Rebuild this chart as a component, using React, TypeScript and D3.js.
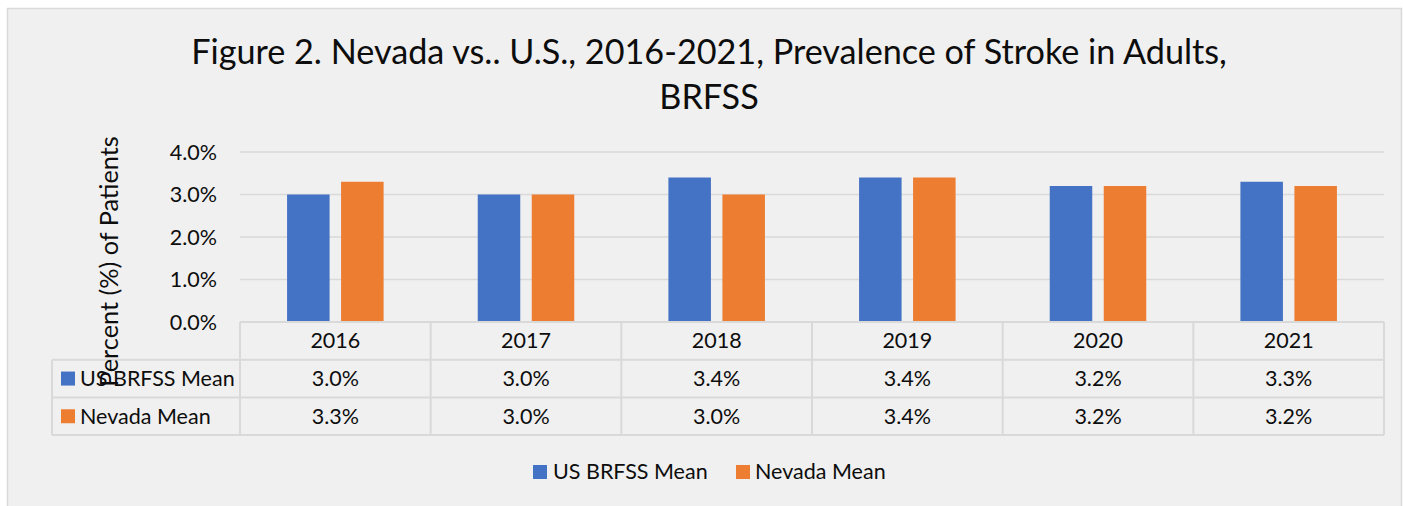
import React from "react";
import * as d3 from "d3";

const years = ["2016", "2017", "2018", "2019", "2020", "2021"];
const usMean = [0.030, 0.030, 0.034, 0.034, 0.032, 0.033];
const nvMean = [0.033, 0.030, 0.030, 0.034, 0.032, 0.032];
const seriesNames = ["US BRFSS Mean", "Nevada Mean"];
const seriesColors = ["#4472C4", "#ED7D31"];
const yTicks = [0, 0.01, 0.02, 0.03, 0.04];
const titleLines = ["Figure 2. Nevada vs.. U.S., 2016-2021, Prevalence of Stroke in Adults,", "BRFSS"];
const yLabel = "Percent (%) of Patients";

const W = 1403;
const H = 506;
const FONT = "Lato, 'Open Sans', sans-serif";

export default function App() {
  const plotLeft = 240;
  const plotRight = 1384;
  const x = d3.scaleBand<string>().domain(years).range([plotLeft, plotRight]).padding(0);
  const y = d3.scaleLinear().domain([0, 0.04]).range([322, 152]);
  const bw = x.bandwidth();
  const barW = bw * 0.223;
  const gap = barW * 0.27;
  const fmt = d3.format(".1%");
  const series = [usMean, nvMean];

  const rowTop = 322;
  const rowH = 37.7;
  const tableLeft = 52;
  const gridColor = "#d9d9d9";
  const textColor = "#0d0d0d";
  const fs = 21.5;

  return (
    <svg width={W} height={H} style={{ position: "absolute", left: 0, top: 0, background: "#fff" }} fontFamily={FONT}>
      <rect x={7.5} y={8.5} width={1394} height={510} fill="#f0f0f0" stroke="#d9d9d9" strokeWidth={1.5} />
      {/* title */}
      {titleLines.map((t, i) => (
        <text key={i} x={709} y={64 + i * 45} textAnchor="middle" fontSize={34.2} fill={textColor}>{t}</text>
      ))}
      {/* gridlines */}
      {yTicks.filter(t => t > 0).map(t => (
        <line key={t} x1={plotLeft} x2={plotRight} y1={y(t)} y2={y(t)} stroke={gridColor} strokeWidth={1.5} />
      ))}
      {/* y tick labels */}
      {yTicks.map(t => (
        <text key={t} x={217} y={y(t) + 7.5} textAnchor="end" fontSize={fs} fill={textColor}>{fmt(t)}</text>
      ))}
      {/* bars */}
      {years.map((yr, i) => {
        const c = (x(yr) as number) + bw / 2;
        return series.map((s, k) => {
          const bx = k === 0 ? c - gap / 2 - barW : c + gap / 2;
          return (
            <rect key={yr + k} x={bx} y={y(s[i])} width={barW} height={y(0) - y(s[i])} fill={seriesColors[k]} />
          );
        });
      })}
      {/* table lines */}
      <line x1={plotLeft} x2={plotRight} y1={rowTop} y2={rowTop} stroke={gridColor} strokeWidth={2} />
      {[1, 2, 3].map(r => (
        <line key={r} x1={tableLeft} x2={plotRight} y1={rowTop + r * rowH} y2={rowTop + r * rowH} stroke={gridColor} strokeWidth={2} />
      ))}
      <line x1={tableLeft} x2={tableLeft} y1={rowTop + rowH} y2={rowTop + 3 * rowH} stroke={gridColor} strokeWidth={2} />
      {years.map(yr => (
        <line key={yr} x1={x(yr)} x2={x(yr)} y1={rowTop} y2={rowTop + 3 * rowH} stroke={gridColor} strokeWidth={2} />
      ))}
      <line x1={plotRight} x2={plotRight} y1={rowTop} y2={rowTop + 3 * rowH} stroke={gridColor} strokeWidth={2} />
      {/* header */}
      {years.map(yr => (
        <text key={yr} x={(x(yr) as number) + bw / 2} y={rowTop + rowH / 2 + 7.5} textAnchor="middle" fontSize={fs} fill={textColor}>{yr}</text>
      ))}
      {/* rows */}
      {series.map((s, k) => (
        <g key={k}>
          <rect x={61} y={rowTop + (k + 1) * rowH + rowH / 2 - 7} width={14} height={14} fill={seriesColors[k]} />
          <text x={80} y={rowTop + (k + 1) * rowH + rowH / 2 + 7.5} fontSize={fs} fill={textColor}>{seriesNames[k]}</text>
          {years.map((yr, i) => (
            <text key={yr} x={(x(yr) as number) + bw / 2} y={rowTop + (k + 1) * rowH + rowH / 2 + 7.5} textAnchor="middle" fontSize={fs} fill={textColor}>{fmt(s[i])}</text>
          ))}
        </g>
      ))}
      {/* y label */}
      <text transform={`translate(118, 261.5) rotate(-90)`} textAnchor="middle" fontSize={25.3} fill={textColor}>{yLabel}</text>
      {/* legend */}
      <g>
        <rect x={533} y={465} width={14} height={14} fill={seriesColors[0]} />
        <text x={553} y={479} fontSize={fs} fill={textColor}>{seriesNames[0]}</text>
        <rect x={736} y={465} width={14} height={14} fill={seriesColors[1]} />
        <text x={755} y={479} fontSize={fs} fill={textColor}>{seriesNames[1]}</text>
      </g>
    </svg>
  );
}
